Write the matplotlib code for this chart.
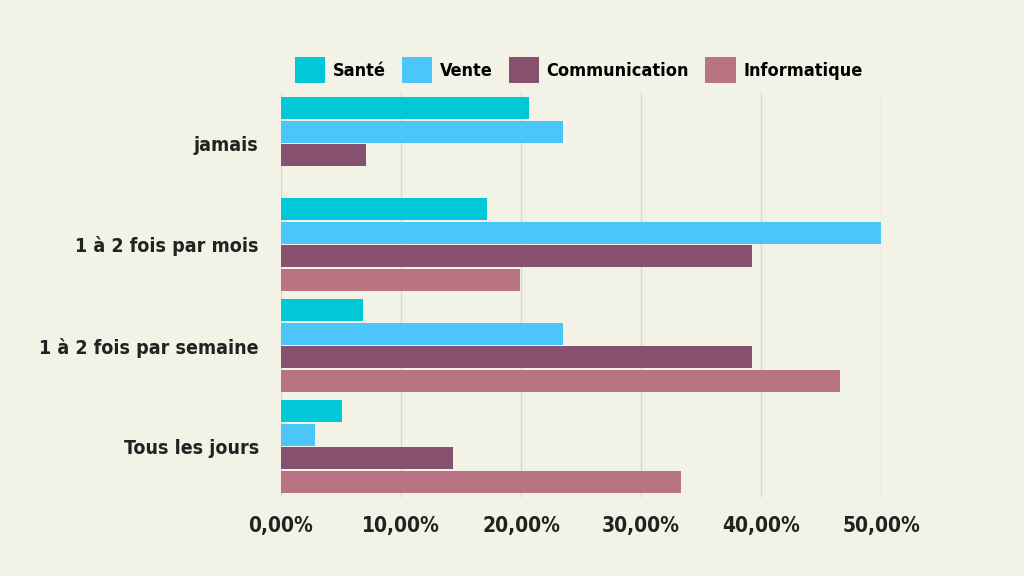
import matplotlib
matplotlib.use("Agg")
import matplotlib.pyplot as plt
import numpy as np

categories = ["jamais", "1 à 2 fois par mois", "1 à 2 fois par semaine", "Tous les jours"]
series = ["Santé", "Vente", "Communication", "Informatique"]
sante = [20.7, 17.2, 6.8, 5.1]
vente = [23.5, 50.0, 23.5, 2.8]
communication = [7.1, 39.25, 39.25, 14.3]
informatique = [0.0, 19.9, 46.6, 33.3]
colors = ["#00C8D7", "#4CC6F8", "#87506E", "#B87482"]
bg = "#F2F2E7"

font = dict(family="DejaVu Sans", stretch="condensed", weight="bold")

fig = plt.figure(figsize=(10.24, 5.76), dpi=100, facecolor=bg)
ax = fig.add_axes([281/1024, 1-497/576, 600/1024, 404/576], facecolor=bg)

y = np.arange(len(categories))
h = 0.235
for i, (name, vals) in enumerate(zip(series, [sante, vente, communication, informatique])):
    ax.barh(y - 1.5*h + i*h, vals, height=h*0.93, color=colors[i], label=name, zorder=3)

ax.set_xlim(0, 50)
ax.set_ylim(3.5, -0.5)
ax.set_xticks(range(0, 51, 10))
ax.set_xticklabels([f"{v},00%" for v in range(0, 51, 10)], fontsize=15, color="#222222", **font)
ax.set_yticks(y)
ax.set_yticklabels(categories, fontsize=14, color="#222222", **font)
ax.tick_params(length=0, pad=16)
ax.tick_params(axis="x", pad=14)
ax.grid(axis="x", color="#D8D8D0", linewidth=1, zorder=0)
for s in ax.spines.values():
    s.set_visible(False)

leg = fig.legend(loc="upper center", bbox_to_anchor=(0.565, 0.93), ncol=4, frameon=False,
                 prop=dict(size=13, **font), handlelength=1.7, handleheight=1.9, columnspacing=0.9,
                 handletextpad=0.4)
fig.savefig("out.png", facecolor=bg)
